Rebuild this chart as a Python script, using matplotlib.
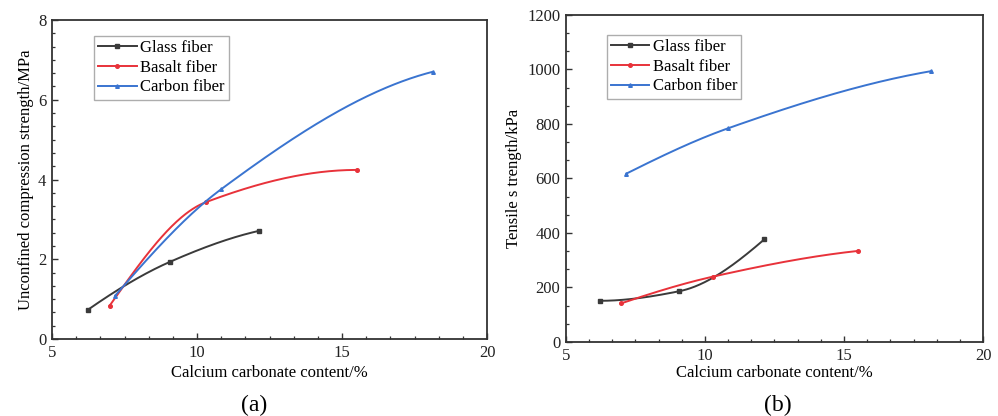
import numpy as np
import matplotlib
matplotlib.use("Agg")
import matplotlib.pyplot as plt
from matplotlib.ticker import MultipleLocator, AutoMinorLocator

plt.rcParams['font.family'] = ['Liberation Serif', 'DejaVu Serif']

series_names = ["Glass fiber", "Basalt fiber", "Carbon fiber"]
colors = ["#3a3a3a", "#e8323a", "#3a74d0"]
markers = ["s", "o", "^"]

# Panel (a): unconfined compression strength (MPa)
glass_x_a = [6.23, 9.08, 12.12]
glass_y_a = [0.73, 1.94, 2.71]
basalt_x_a = [6.99, 10.30, 15.50]
basalt_y_a = [0.84, 3.43, 4.24]
carbon_x_a = [7.18, 10.82, 18.12]
carbon_y_a = [1.09, 3.75, 6.70]

# Panel (b): tensile strength (kPa)
glass_x_b = [6.22, 9.07, 12.13]
glass_y_b = [151, 186, 376]
basalt_x_b = [7.00, 10.30, 15.50]
basalt_y_b = [142, 240, 334]
carbon_x_b = [7.18, 10.83, 18.14]
carbon_y_b = [618, 784, 994]


def pchip(x, y, n=200):
    """Monotone cubic (Fritsch-Carlson) curve through the data points."""
    x = np.asarray(x, float)
    y = np.asarray(y, float)
    h = np.diff(x)
    d = np.diff(y) / h
    k = len(x)
    m = np.zeros(k)
    for i in range(1, k - 1):
        if d[i - 1] * d[i] <= 0:
            m[i] = 0
        else:
            w1 = 2 * h[i] + h[i - 1]
            w2 = h[i] + 2 * h[i - 1]
            m[i] = (w1 + w2) / (w1 / d[i - 1] + w2 / d[i])

    def end(h0, h1, d0, d1):
        s = ((2 * h0 + h1) * d0 - h0 * d1) / (h0 + h1)
        if np.sign(s) != np.sign(d0):
            s = 0
        elif np.sign(d0) != np.sign(d1) and abs(s) > abs(3 * d0):
            s = 3 * d0
        return s
    m[0] = end(h[0], h[1], d[0], d[1])
    m[-1] = end(h[-1], h[-2], d[-1], d[-2])
    xs = np.linspace(x[0], x[-1], n)
    ys = np.empty_like(xs)
    for j, xv in enumerate(xs):
        i = min(np.searchsorted(x, xv, side='right') - 1, k - 2)
        t = (xv - x[i]) / h[i]
        h00 = 2 * t ** 3 - 3 * t ** 2 + 1
        h10 = t ** 3 - 2 * t ** 2 + t
        h01 = -2 * t ** 3 + 3 * t ** 2
        h11 = t ** 3 - t ** 2
        ys[j] = h00 * y[i] + h10 * h[i] * m[i] + h01 * y[i + 1] + h11 * h[i] * m[i + 1]
    return xs, ys


fig = plt.figure(figsize=(9.98, 4.16), dpi=100)
ax_a = fig.add_axes([0.0521, 0.185, 0.436, 0.767])
ax_b = fig.add_axes([0.567, 0.178, 0.418, 0.786])

data_a = [(glass_x_a, glass_y_a), (basalt_x_a, basalt_y_a), (carbon_x_a, carbon_y_a)]
data_b = [(glass_x_b, glass_y_b), (basalt_x_b, basalt_y_b), (carbon_x_b, carbon_y_b)]

for ax, data in [(ax_a, data_a), (ax_b, data_b)]:
    for (x, y), name, c, m in zip(data, series_names, colors, markers):
        xs, ys = pchip(x, y)
        ax.plot(xs, ys, color=c, lw=1.4)
        ax.plot(x, y, linestyle='none', marker=m, color=c, ms=2.6)
        ax.plot([], [], color=c, lw=1.4, marker=m, ms=2.6, label=name)

FS = 12

ax_a.set_xlim(5, 20)
ax_a.set_ylim(0, 8)
ax_a.xaxis.set_major_locator(MultipleLocator(5))
ax_a.yaxis.set_major_locator(MultipleLocator(2))
ax_a.xaxis.set_minor_locator(AutoMinorLocator(6))
ax_a.yaxis.set_minor_locator(AutoMinorLocator(6))
ax_a.set_xlabel("Calcium carbonate content/%", fontsize=FS, labelpad=3)
ax_a.set_ylabel("Unconfined compression strength/MPa", fontsize=FS, labelpad=3)

ax_b.set_xlim(5, 20)
ax_b.set_ylim(0, 1200)
ax_b.xaxis.set_major_locator(MultipleLocator(5))
ax_b.yaxis.set_major_locator(MultipleLocator(200))
ax_b.xaxis.set_minor_locator(AutoMinorLocator(6))
ax_b.yaxis.set_minor_locator(AutoMinorLocator(3))
ax_b.set_xlabel("Calcium carbonate content/%", fontsize=FS, labelpad=1)
ax_b.set_ylabel("Tensile s trength/kPa", fontsize=FS, labelpad=4)

legend_anchor = {ax_a: (0.0966, 0.95), ax_b: (0.098, 0.939)}
for ax in (ax_a, ax_b):
    for s in ax.spines.values():
        s.set_linewidth(1.3)
        s.set_color("#333333")
    ax.tick_params(which='major', direction='in', length=4, width=1.0,
                   labelsize=FS, colors="#333333", labelcolor="#222222", pad=4)
    ax.tick_params(which='minor', direction='in', length=2, width=0.9,
                   colors="#333333")
    ax.tick_params(axis='y', which='both', right=False)
    ax.tick_params(axis='x', which='both', top=False)
    leg = ax.legend(loc='upper left', bbox_to_anchor=legend_anchor[ax], fontsize=FS,
                    frameon=True, fancybox=False, edgecolor="#999999",
                    handlelength=2.3, borderpad=0.25, labelspacing=0.22,
                    handletextpad=0.2, borderaxespad=0)
    leg.get_frame().set_linewidth(1.0)

fig.text(0.2545, 0.026, "(a)", fontsize=17, ha='center', va='center')
fig.text(0.779, 0.026, "(b)", fontsize=17, ha='center', va='center')

fig.savefig("out.png", dpi=100)
